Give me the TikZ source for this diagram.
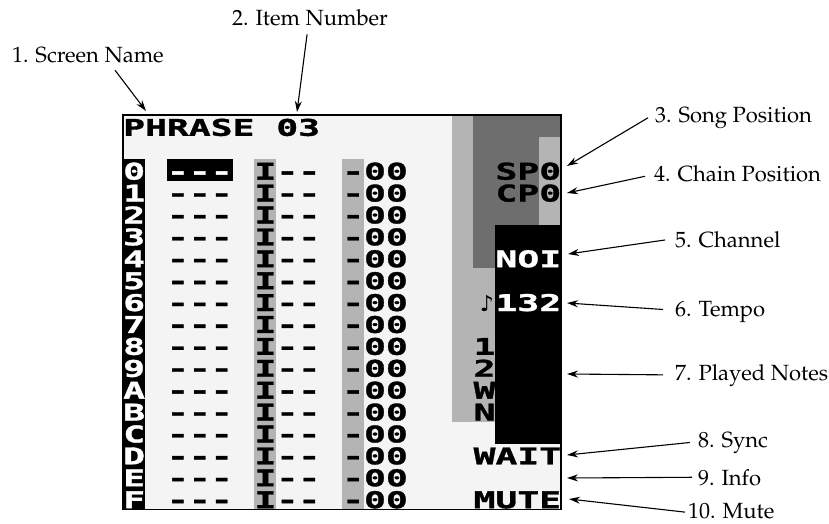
\documentclass[tikz,border=0pt]{standalone}
\usepackage{fontspec}
\newfontfamily\gbfont[FakeStretch=1.58,BoldFeatures={FakeBold=1.5}]{DejaVu Sans Mono}
\newfontfamily\notefont{DejaVu Sans}
\usepackage[T1]{fontenc}
\renewcommand{\rmdefault}{ppl}
\usepackage{color}
\usetikzlibrary{arrows.meta}

\definecolor{screenbg}{HTML}{F4F4F4}
\definecolor{lcdlight}{HTML}{B4B4B4}
\definecolor{lcddark}{HTML}{6E6E6E}

\tikzset{
  lbl/.style={font=\fontsize{22}{26}\selectfont, inner sep=0pt, anchor=base west},
  pix/.style={font=\gbfont\bfseries\fontsize{23}{21.9}\selectfont, inner sep=0pt, anchor=base west, align=left},
  pointer/.style={-{Stealth[length=11pt,width=7pt]}, line width=1.1pt},
}

\begin{document}
\begin{tikzpicture}[x=1pt,y=-1pt]
\useasboundingbox (0,0) rectangle (829,524);
% the screen, one unit per tile
\begin{scope}[shift={(123,115)},x=21.9pt,y=-21.9pt]
\fill[screenbg] (0,0) rectangle (20,18);
\fill[black] (0,2) rectangle (1,18);
\fill[black] (2,2) rectangle (5,3);
\fill[lcdlight] (6,2) rectangle (7,18);
\fill[lcdlight] (10,2) rectangle (11,18);
\fill[lcdlight] (15,0) rectangle (17,14);
\fill[lcddark] (16,0) rectangle (20,7);
\fill[lcdlight] (19,1) rectangle (20,5);
\fill[black] (17,5) rectangle (20,15);
\draw[line width=1.2pt] (0,0) rectangle (20,18);
% multi-line nodes sit on the baseline of their last line
\node[pix] (title) at (0,0.95) {PHRASE 03};
\node[pix,text=white] (hexcol) at (0,17.95) {0\\1\\2\\3\\4\\5\\6\\7\\8\\9\\A\\B\\C\\D\\E\\F};
\node[pix] (notes) at (2,17.95) {\textcolor{white}{---}\\---\\---\\---\\---\\---\\---\\---\\---\\---\\---\\---\\---\\---\\---\\---};
\node[pix] (instr) at (6,17.95) {I--\\I--\\I--\\I--\\I--\\I--\\I--\\I--\\I--\\I--\\I--\\I--\\I--\\I--\\I--\\I--};
\node[pix] (cmd) at (10,17.95) {-00\\-00\\-00\\-00\\-00\\-00\\-00\\-00\\-00\\-00\\-00\\-00\\-00\\-00\\-00\\-00};
\node[pix] (sp) at (17,2.95) {SP0};
\node[pix] (cp) at (17,3.95) {CP0};
\node[pix,text=white] (chan) at (17,6.95) {NOI};
\node[inner sep=0pt,anchor=base,font=\notefont\fontsize{22}{22}\selectfont] (note) at (16.62,8.95) {♪};
\node[pix,text=white] (tempo) at (17,8.95) {132};
\node[pix] (played) at (16,13.95) {1\\2\\W\\N};
\node[pix] (sync) at (16,15.95) {WAIT};
\node[pix] (mute) at (16,17.95) {MUTE};
\end{scope}
% labels
\node[lbl] (scrname) at (12,62.5) {1. Screen Name};
\node[lbl] (itemnum) at (232,25.7) {2. Item Number};
\node[lbl] (songlbl) at (655,122.3) {3. Song Position};
\node[lbl] (chainlbl) at (654,181) {4. Chain Position};
\node[lbl] (chanlbl) at (675,247.7) {5. Channel};
\node[lbl] (tempolbl) at (675,316) {6. Tempo};
\node[lbl] (playlbl) at (675,380.7) {7. Played Notes};
\node[lbl] (synclbl) at (698,447) {8. Sync};
\node[lbl] (infolbl) at (698,485) {9. Info};
\node[lbl] (mutelbl) at (688,518.5) {10. Mute};
% arrow tips on the screen
\coordinate (scrpt) at (146,111);
\coordinate (itempt) at (297,112);
\coordinate (songpt) at (567,166);
\coordinate (chainpt) at (567,193);
\coordinate (chanpt) at (568,254);
\coordinate (tempopt) at (567,303);
\coordinate (playpt) at (567,374);
\coordinate (syncpt) at (567,455);
\coordinate (infopt) at (567,478);
\coordinate (mutept) at (569,499);
\draw[pointer] ([xshift=27pt,yshift=-7pt]scrname.south) -- (scrpt);
\draw[pointer] ([xshift=-3pt,yshift=-8pt]itemnum.south) -- (itempt);
\draw[pointer] ([xshift=-7pt]songlbl.west) -- (songpt);
\draw[pointer] ([xshift=-9pt,yshift=-3pt]chainlbl.west) -- (chainpt);
\draw[pointer] ([xshift=-10pt]chanlbl.west) -- (chanpt);
\draw[pointer] ([xshift=-12pt,yshift=2pt]tempolbl.west) -- (tempopt);
\draw[pointer] ([xshift=-12pt,yshift=1pt]playlbl.west) -- (playpt);
\draw[pointer] ([xshift=-8pt]synclbl.west) -- (syncpt);
\draw[pointer] ([xshift=-6pt]infolbl.west) -- (infopt);
\draw[pointer] ([xshift=-3pt,yshift=-1pt]mutelbl.west) -- (mutept);
\end{tikzpicture}
\end{document}
